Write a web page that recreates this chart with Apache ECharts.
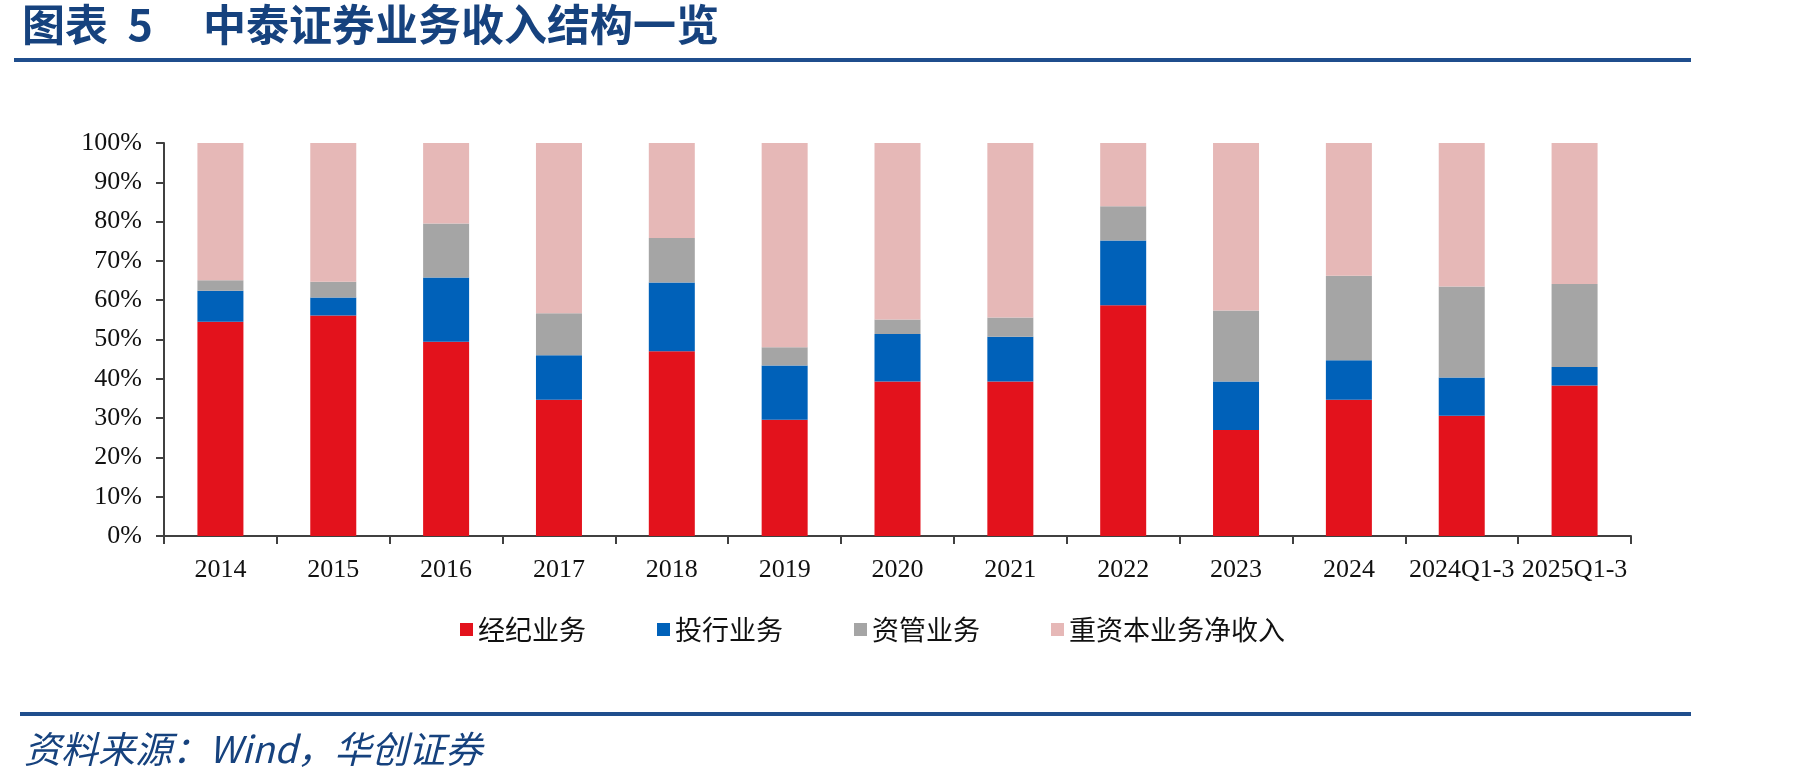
<html>
<head>
    <meta charset="UTF-8">
    <title>中泰证券业务收入结构一览</title>
    <script src="https://cdn.jsdelivr.net/npm/echarts@6/dist/echarts.min.js"></script>
    <style>
        body { margin: 0; background: #fff; }
        #container { width: 1801px; height: 782px; }
    </style>
</head>

<body>
    <div id="container"></div>
</body>

<script>
    // 数据（%）
    var categories = ['2014', '2015', '2016', '2017', '2018', '2019', '2020', '2021', '2022', '2023', '2024', '2024Q1-3', '2025Q1-3'];
    var brokerage = [54.5, 56.1, 49.4, 34.7, 47.0, 29.6, 39.3, 39.3, 58.7, 27.0, 34.7, 30.6, 38.3];
    var ibanking = [7.9, 4.6, 16.4, 11.3, 17.5, 13.8, 12.1, 11.4, 16.5, 12.3, 10.0, 9.7, 4.7];
    var assetMgmt = [2.7, 4.0, 13.7, 10.7, 11.3, 4.6, 3.7, 4.9, 8.7, 18.1, 21.5, 23.2, 21.1];
    var heavyCapital = [34.9, 35.3, 20.5, 43.3, 24.2, 52.0, 44.9, 44.4, 16.1, 42.6, 33.8, 36.5, 35.9];
    var seriesNames = ['经纪业务', '投行业务', '资管业务', '重资本业务净收入'];
    var colors = ['#E3121C', '#0061B9', '#A5A5A5', '#E6B8B7'];

    var serif = '"Liberation Serif", "Noto Sans CJK SC", serif';
    var cjk = '"Noto Sans CJK SC", sans-serif';
    var navy = '#16427E';

    var mycharts = echarts.init(document.getElementById('container'));

    function makeSeries(name, values, idx) {
        return {
            name: name,
            type: 'bar',
            stack: 'total',
            barWidth: 46,
            data: values,
            itemStyle: { color: colors[idx] }
        };
    }

    var option = {
        animation: false,
        backgroundColor: '#fff',
        color: colors,
        graphic: [
            {
                type: 'text', left: 22, top: 3,
                style: { text: '图表  5', font: 'bold 43px "Noto Sans CJK SC", sans-serif', fill: navy }
            },
            {
                type: 'text', left: 203, top: 3,
                style: { text: '中泰证券业务收入结构一览', font: 'bold 43px "Noto Sans CJK SC", sans-serif', fill: navy }
            },
            { type: 'rect', shape: { x: 14, y: 58, width: 1677, height: 4 }, style: { fill: '#1F4E8D' } },
            { type: 'rect', shape: { x: 20, y: 712, width: 1671, height: 4 }, style: { fill: '#1F4E8D' } },
            {
                type: 'text', left: 24, top: 730,
                style: {
                    text: '资料来源：Wind，华创证券',
                    font: 'italic 37px "Noto Sans CJK SC", sans-serif',
                    fill: navy
                }
            }
        ],
        legend: {
            data: seriesNames,
            left: 455,
            top: 611,
            icon: 'rect',
            itemWidth: 13,
            itemHeight: 13,
            itemGap: 71,
            textStyle: { fontFamily: cjk, fontSize: 27, color: '#111' }
        },
        grid: { left: 164, right: 170, top: 143, bottom: 246 },
        xAxis: {
            type: 'category',
            data: categories,
            axisLine: { lineStyle: { color: '#404040', width: 2 } },
            axisTick: { show: true, length: 8, lineStyle: { color: '#404040', width: 2 } },
            axisLabel: { fontFamily: serif, fontSize: 26, color: '#111', margin: 21, interval: 0 }
        },
        yAxis: {
            type: 'value',
            min: 0,
            max: 100,
            interval: 10,
            axisLine: { show: true, lineStyle: { color: '#404040', width: 2 } },
            axisTick: { show: true, length: 8, lineStyle: { color: '#404040', width: 2 } },
            splitLine: { show: false },
            axisLabel: { fontFamily: serif, fontSize: 26, color: '#111', margin: 22, formatter: '{value}%' }
        },
        series: [
            makeSeries(seriesNames[0], brokerage, 0),
            makeSeries(seriesNames[1], ibanking, 1),
            makeSeries(seriesNames[2], assetMgmt, 2),
            makeSeries(seriesNames[3], heavyCapital, 3)
        ]
    };
    mycharts.setOption(option);
</script>
</html>
